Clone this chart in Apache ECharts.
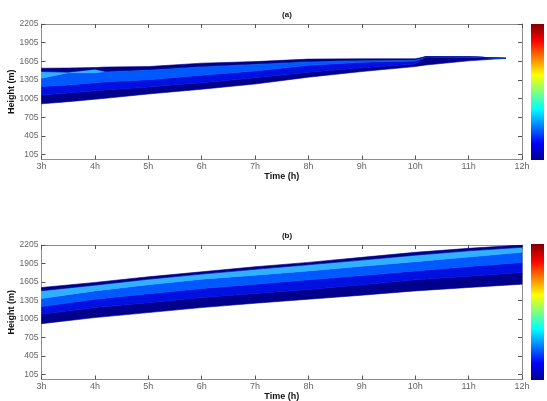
<!DOCTYPE html>
<html><head><meta charset="utf-8">
<script src="https://cdn.jsdelivr.net/npm/echarts@6/dist/echarts.min.js"></script>
<style>html,body{margin:0;padding:0;background:#fff}#c{width:547px;height:401px}</style>
</head><body><div id="c"></div>
<script>
// ---- tick labels ----
const hourTicks = [3, 4, 5, 6, 7, 8, 9, 10, 11, 12];
const hourLabels = ['3h', '4h', '5h', '6h', '7h', '8h', '9h', '10h', '11h', '12h'];
const heightTicks = [105, 405, 705, 1005, 1305, 1605, 1905, 2205];
const panelTitles = ['(a)', '(b)'];
const xName = 'Time (h)';
const yName = 'Height (m)';

// ---- panel (a): contour band boundaries (m) ----
const timesA      = [3,    3.5,  4,    4.2,  5,    6,    7,    8,    9,    10,   10.2, 11,   11.7];
const aBottom     = [920,  955,  994,  1010, 1079, 1155, 1240, 1349, 1440, 1520, 1545, 1612, 1652];
const aNavyTop    = [1063, 1095, 1130, 1145, 1190, 1260, 1340, 1430, 1500, 1560, 1680, 1677, 1652];
const aBlueTop    = [1198, 1225, 1260, 1275, 1310, 1380, 1450, 1540, 1590, 1610, 1680, 1677, 1652];
const aMidTop     = [1333, 1420, 1420, 1440, 1470, 1520, 1560, 1600, 1620, 1625, 1680, 1677, 1652];
const aLightTop   = [1440, 1430, 1478, 1440, 1470, 1520, 1560, 1600, 1620, 1625, 1680, 1677, 1652];
const aTop        = [1494, 1496, 1505, 1512, 1520, 1575, 1600, 1640, 1645, 1645, 1680, 1677, 1652];

// ---- panel (b) ----
const timesB      = [3,    4,    5,    6,    7,    8,    9,    10,   11,   12];
const bBottom     = [930,  1028, 1109, 1191, 1261, 1326, 1391, 1461, 1516, 1570];
const bNavyTop    = [1083, 1191, 1270, 1354, 1420, 1485, 1560, 1640, 1700, 1760];
const bBlueTop    = [1208, 1326, 1415, 1500, 1570, 1640, 1710, 1785, 1855, 1923];
const bMidTop     = [1338, 1461, 1560, 1651, 1715, 1785, 1860, 1935, 2010, 2086];
const bLightTop   = [1463, 1554, 1650, 1733, 1810, 1885, 1960, 2040, 2110, 2168];
const bTop        = [1516, 1598, 1689, 1770, 1852, 1923, 2005, 2086, 2151, 2205];

const bandColors = ['#00008c', '#0010e0', '#0058ff', '#30b0ff', '#00008c'];

const edgesA = [aBottom, aNavyTop, aBlueTop, aMidTop, aLightTop, aTop];
const edgesB = [bBottom, bNavyTop, bBlueTop, bMidTop, bLightTop, bTop];

function bandSeries(times, edges, xi, yi) {
  return {
    type: 'custom', xAxisIndex: xi, yAxisIndex: yi, clip: true, silent: true,
    data: bandColors.map((c, k) => [k]),
    renderItem: function (params, api) {
      const k = params.dataIndex;
      const lo = edges[k], hi = edges[k + 1];
      const pts = [];
      for (let i = 0; i < times.length; i++) pts.push(api.coord([times[i], lo[i]]));
      for (let i = times.length - 1; i >= 0; i--) pts.push(api.coord([times[i], hi[i]]));
      return { type: 'polygon', shape: { points: pts },
        style: { fill: bandColors[k], stroke: bandColors[k], lineWidth: 0.6 } };
    }
  };
}

const font = 'Liberation Sans, Arial, sans-serif';
const axisCol = '#8c8c8c';
const grids = [
  { left: 41.5, right: 25, top: 24, height: 135.5, containLabel: false, outerBoundsMode: 'none' },
  { left: 41.5, right: 25, top: 245, height: 134.5, containLabel: false, outerBoundsMode: 'none' }
];

function xAx(g, pos, labels) {
  return {
    type: 'value', gridIndex: g, position: pos, min: 3, max: 12, interval: 1,
    axisLine: { show: true, onZero: false, lineStyle: { color: axisCol, width: 1 } },
    axisTick: { show: true, inside: true, length: 4, lineStyle: { color: '#555' } },
    splitLine: { show: false },
    axisLabel: { show: labels, color: '#666', fontSize: 9, fontFamily: font, margin: 3,
      formatter: v => hourLabels[hourTicks.indexOf(v)] },
    name: labels ? xName : '', nameLocation: 'middle', nameGap: 13, nameMoveOverlap: false,
    nameTextStyle: { color: '#111', fontSize: 9, fontWeight: 'bold', fontFamily: font }
  };
}
function yAx(g, pos, labels) {
  return {
    type: 'value', gridIndex: g, position: pos, min: 25, max: 2205,
    axisLine: { show: true, onZero: false, lineStyle: { color: axisCol, width: 1 } },
    axisTick: { show: true, inside: true, length: 4, customValues: heightTicks, lineStyle: { color: '#555' } },
    splitLine: { show: false },
    axisLabel: { show: labels, color: '#666', fontSize: 8.5, fontFamily: font, margin: 3,
      customValues: heightTicks, formatter: v => String(v) },
    name: labels ? yName : '', nameLocation: 'middle', nameGap: 25, nameMoveOverlap: false,
    nameTextStyle: { color: '#111', fontSize: 9, fontWeight: 'bold', fontFamily: font }
  };
}

const jet = new echarts.graphic.LinearGradient(0, 0, 0, 1, [
  { offset: 0, color: '#800000' }, { offset: 0.125, color: '#ff0000' },
  { offset: 0.375, color: '#ffff00' }, { offset: 0.625, color: '#00ffff' },
  { offset: 0.875, color: '#0000ff' }, { offset: 1, color: '#00008f' }
]);

const chart = echarts.init(document.getElementById('c'), null, { renderer: 'canvas' });
chart.setOption({
  backgroundColor: '#fff',
  animation: false,
  title: [
    { text: panelTitles[0], left: 282, top: 6, textAlign: 'center',
      textStyle: { fontSize: 8, fontWeight: 'bold', color: '#111', fontFamily: font } },
    { text: panelTitles[1], left: 282, top: 227, textAlign: 'center',
      textStyle: { fontSize: 8, fontWeight: 'bold', color: '#111', fontFamily: font } }
  ],
  grid: grids,
  xAxis: [xAx(0, 'bottom', true), xAx(1, 'bottom', true), xAx(0, 'top', false), xAx(1, 'top', false)],
  yAxis: [yAx(0, 'left', true), yAx(1, 'left', true), yAx(0, 'right', false), yAx(1, 'right', false)],
  series: [bandSeries(timesA, edgesA, 0, 0), bandSeries(timesB, edgesB, 1, 1)],
  graphic: [
    { type: 'rect', shape: { x: 531, y: 24, width: 13, height: 136 }, style: { fill: jet } },
    { type: 'rect', shape: { x: 531, y: 244, width: 13, height: 136 }, style: { fill: jet } }
  ]
});
</script></body></html>
